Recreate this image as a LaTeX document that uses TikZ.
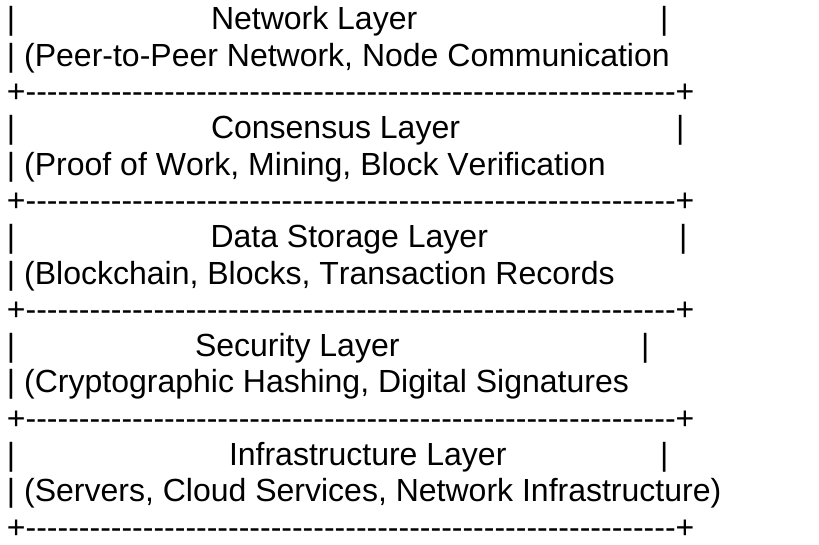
\documentclass[tikz,border=0pt]{standalone}
\usepackage{fontspec}
\setmainfont{Liberation Sans}[Ligatures=TeXOff,Kerning=Off]
\begin{document}
\begin{tikzpicture}[x=0.75pt,y=-0.75pt,
  txt/.style={anchor=base west, inner sep=0pt, outer sep=0pt,
              font=\fontsize{24}{27}\selectfont, text=black}]
\useasboundingbox[fill=white] (0,0) rectangle (819,545);
\def\dashline{+-------------------------------------------------------------+}
% left margin of every line
\def\lx{7}
% --- Network layer
\node[txt] (l1a) at (\lx,30) {|};
\node[txt] (l1t) at (211,30) {Network Layer};
\node[txt] (l1b) at (660,30) {|};
\node[txt] (l2)  at (\lx,66.3) {| (Peer-to-Peer Network, Node Communication};
\node[txt] (l3)  at (\lx,102.6) {\dashline};
% --- Consensus layer
\node[txt] (l4a) at (\lx,138.9) {|};
\node[txt] (l4t) at (211,138.9) {Consensus Layer};
\node[txt] (l4b) at (676,138.9) {|};
\node[txt] (l5)  at (\lx,175.2) {| (Proof of Work, Mining, Block Verification};
\node[txt] (l6)  at (\lx,211.5) {\dashline};
% --- Data storage layer
\node[txt] (l7a) at (\lx,247.8) {|};
\node[txt] (l7t) at (210.5,247.8) {Data Storage Layer};
\node[txt] (l7b) at (679,247.8) {|};
\node[txt] (l8)  at (\lx,284.1) {| (Blockchain, Blocks, Transaction Records};
\node[txt] (l9)  at (\lx,320.4) {\dashline};
% --- Security layer
\node[txt] (l10a) at (\lx,356.7) {|};
\node[txt] (l10t) at (195,356.7) {Security Layer};
\node[txt] (l10b) at (641,356.7) {|};
\node[txt] (l11)  at (\lx,393) {| (Cryptographic Hashing, Digital Signatures};
\node[txt] (l12)  at (\lx,429.3) {\dashline};
% --- Infrastructure layer
\node[txt] (l13a) at (\lx,465.6) {|};
\node[txt] (l13t) at (229,465.6) {Infrastructure Layer};
\node[txt] (l13b) at (660,465.6) {|};
\node[txt] (l14)  at (\lx,501.9) {| (Servers, Cloud Services, Network Infrastructure)};
\node[txt] (l15)  at (\lx,538.2) {\dashline};
\end{tikzpicture}
\end{document}
